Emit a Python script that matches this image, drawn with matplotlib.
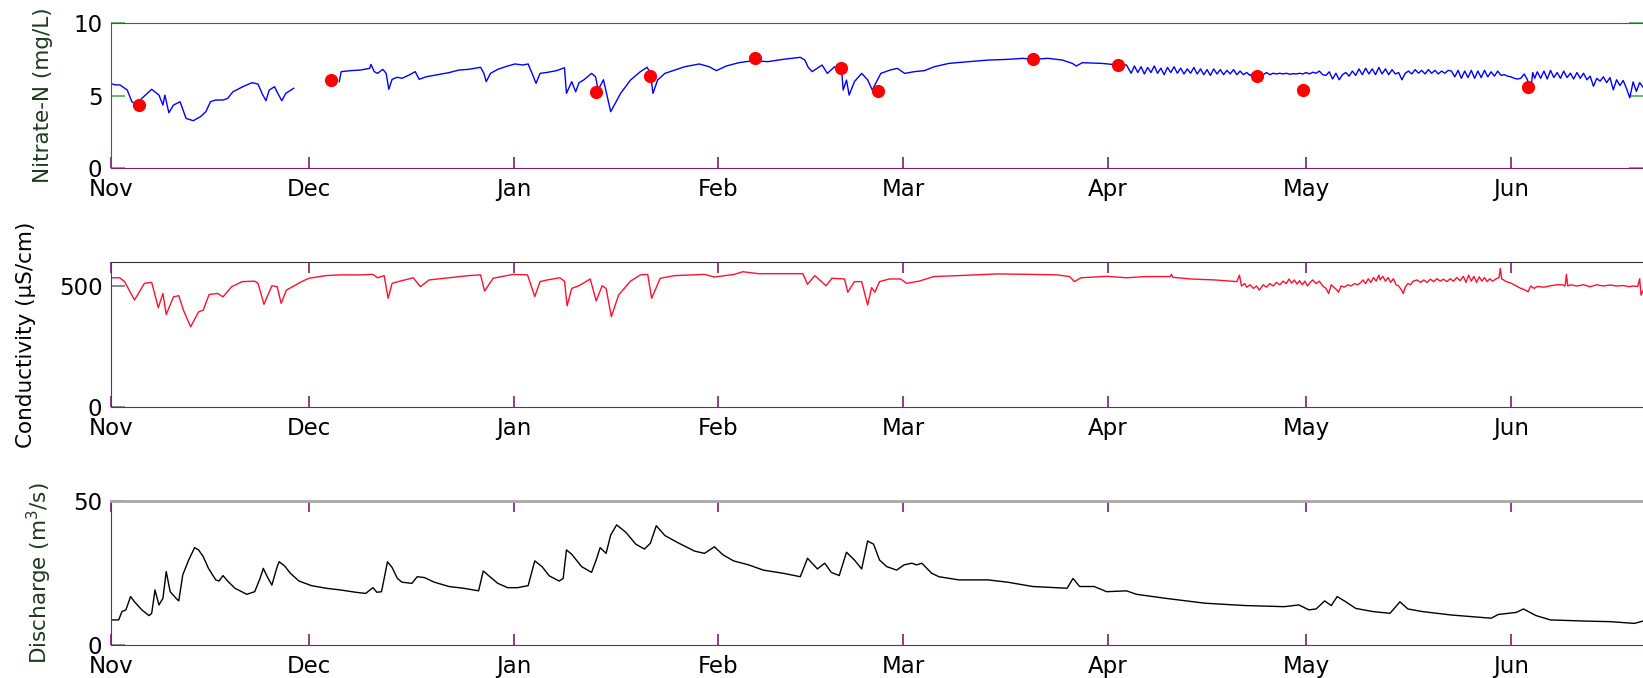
import numpy as np
import matplotlib
matplotlib.use("Agg")
import matplotlib.pyplot as plt

plt.rcParams['font.family'] = ['DejaVu Sans']
plt.rcParams['mathtext.fontset'] = 'dejavusans'

# x axis: days since Nov 1, month starts as tick positions
month_days = [0, 30, 61, 92, 120, 151, 181, 212]
month_labels = ['Nov', 'Dec', 'Jan', 'Feb', 'Mar', 'Apr', 'May', 'Jun']
x_end = 232.0

# Nitrate-N sensor record (mg/L), two pieces with a gap in late Nov
nit_day_a = [0.0, 0.6, 1.4, 2.5, 3.2, 4.0, 4.7, 6.2, 7.3, 7.9, 8.2, 8.8, 9.5, 10.5,
             11.4, 12.5, 13.6, 14.4, 15.1, 15.9, 17.0, 17.7, 18.5, 20.0, 21.4, 22.3,
             22.9, 23.5, 24.0, 24.8, 25.3, 25.9, 26.5, 27.7]
nit_val_a = [5.85, 5.75, 5.74, 5.39, 4.58, 4.35, 4.81, 5.44, 5.04, 4.35, 5.04, 3.82,
             4.35, 4.58, 3.43, 3.27, 3.55, 3.89, 4.58, 4.70, 4.70, 4.81, 5.27, 5.62,
             5.90, 5.80, 5.16, 4.65, 5.39, 5.62, 5.16, 4.65, 5.16, 5.51]

nit_day_b = [34.6, 34.9, 36.3, 37.8, 39.2, 39.4, 39.9, 40.4, 41.2, 41.7, 42.1, 42.6,
             43.4, 44.1, 45.2, 46.1, 46.7, 47.8, 49.7, 51.2, 52.7, 54.2, 56.0, 56.5,
             56.85, 57.5, 58.6, 60.1, 61.2, 62.4, 63.2, 63.8, 64.4, 65.0, 66.1, 67.5,
             68.7, 69.0, 69.8, 70.4, 70.9, 71.6, 72.8, 73.4, 73.8, 74.6, 75.7, 77.2,
             78.7, 80.2, 81.2, 81.7, 82.1, 82.8, 83.9, 85.4, 86.9, 89.1, 90.6, 91.7,
             93.2, 95.1, 97.3, 99.5, 101.8, 104.4, 105.1, 105.6, 106.2, 107.7, 108.5,
             109.6, 110.7, 110.9, 111.4, 111.8, 112.6, 113.7, 114.6, 115.3, 116.6,
             118.0, 119.1, 120.2, 121.7, 123.2, 124.7, 126.9, 129.9, 132.9, 135.9,
             138.1, 139.6, 141.9, 144.1, 145.6, 146.2, 147.1, 150.1, 152.5, 153.8,
             154.0, 154.5, 155.0, 155.5, 156.0, 156.5, 157.0, 157.5, 158.0, 158.5,
             159.0, 159.5, 160.0, 160.5, 161.0, 161.5, 162.0, 162.5, 163.0, 163.5,
             164.0, 164.5, 165.0, 165.5, 166.0, 166.5, 167.0, 167.5, 168.0, 168.5,
             169.0, 169.5, 170.0, 170.5, 171.0, 171.5, 172.0, 172.5, 173.0, 173.5,
             174.0, 174.5, 175.0, 175.5, 176.0, 176.5, 177.0, 177.5, 178.0, 178.5,
             179.0, 179.5, 180.0, 180.5, 181.0, 181.5, 182.0, 182.5, 183.0, 183.5,
             184.0, 184.5, 185.0, 185.5, 186.0, 186.5, 187.0, 187.5, 188.0, 188.5,
             189.0, 189.5, 190.0, 190.5, 191.0, 191.5, 192.0, 192.5, 193.0, 193.5,
             194.0, 194.5, 195.0, 195.5, 196.0, 196.5, 197.0, 197.5, 198.0, 198.5,
             199.0, 199.5, 200.0, 200.5, 201.0, 201.5, 202.0, 202.5, 203.0, 203.5,
             204.0, 204.5, 205.0, 205.5, 206.0, 206.5, 207.0, 207.5, 208.0, 208.5,
             209.0, 209.5, 210.0, 210.5, 211.0, 211.5, 212.0, 212.5, 213.0, 213.5,
             214.0, 214.5, 215.0, 215.3, 215.6, 216.0, 216.5, 217.0, 217.5, 218.0,
             218.5, 219.0, 219.5, 220.0, 220.5, 221.0, 221.5, 222.0, 222.5, 223.0,
             223.5, 224.0, 224.5, 225.0, 225.5, 226.0, 226.5, 227.0, 227.5, 228.0,
             228.5, 229.0, 229.5, 230.0, 230.5, 231.0, 231.5, 232.0]
nit_val_b = [5.97, 6.66, 6.73, 6.77, 6.89, 7.16, 6.66, 6.54, 6.82, 6.54, 5.44, 6.13,
             6.27, 6.20, 6.43, 6.66, 6.13, 6.31, 6.47, 6.59, 6.77, 6.82, 6.96, 6.54,
             5.97, 6.54, 6.82, 7.05, 7.19, 7.12, 7.19, 6.54, 5.85, 6.54, 6.61, 6.73,
             6.93, 5.16, 5.97, 5.27, 5.90, 6.08, 6.54, 6.31, 5.40, 6.10, 3.89, 5.16,
             6.08, 6.66, 6.96, 6.60, 5.16, 6.08, 6.54, 6.77, 7.00, 7.19, 7.00, 6.73,
             7.05, 7.28, 7.42, 7.35, 7.51, 7.65, 7.46, 6.96, 6.66, 7.12, 6.54,
             7.00, 6.54, 5.39, 6.08, 5.04, 5.97, 6.54, 6.10, 5.39, 6.54,
             6.77, 6.89, 6.54, 6.66, 6.73, 7.00, 7.23, 7.35, 7.46, 7.51,
             7.58, 7.51, 7.58, 7.46, 7.23, 7.05, 7.28, 7.23, 7.12, 7.12,
             6.95, 6.55, 7.05, 6.60, 7.00, 6.50, 6.95, 6.60, 7.05, 6.55,
             6.90, 6.45, 6.95, 6.60, 7.00, 6.55, 6.90, 6.50, 6.85, 6.55,
             6.95, 6.50, 6.85, 6.45, 6.80, 6.40, 6.85, 6.50, 6.80, 6.45,
             6.75, 6.50, 6.80, 6.45, 6.70, 6.45, 6.60, 6.40, 6.55, 6.40,
             6.55, 6.45, 6.60, 6.45, 6.55, 6.50, 6.55, 6.50, 6.55, 6.48,
             6.52, 6.50, 6.55, 6.50, 6.60, 6.50, 6.62, 6.55, 6.70, 6.45,
             6.40, 6.65, 6.15, 6.55, 6.10, 6.45, 6.60, 6.35, 6.70, 6.40,
             6.85, 6.45, 6.90, 6.50, 6.85, 6.45, 6.95, 6.50, 6.85, 6.45,
             6.80, 6.50, 6.60, 6.10, 6.55, 6.70, 6.50, 6.80, 6.55, 6.75,
             6.50, 6.80, 6.55, 6.75, 6.50, 6.70, 6.55, 6.75, 6.70, 6.30,
             6.75, 6.20, 6.70, 6.25, 6.75, 6.20, 6.70, 6.25, 6.75, 6.30,
             6.65, 6.35, 6.70, 6.40, 6.45, 6.35, 6.30, 6.20, 6.15, 6.20,
             6.50, 6.10, 5.40, 6.60, 6.20, 6.65, 6.20, 6.70, 6.15, 6.75,
             6.25, 6.60, 6.20, 6.70, 6.25, 6.55, 6.15, 6.60, 6.20, 6.55,
             6.10, 6.35, 5.65, 6.20, 6.00, 6.30, 5.90, 6.25, 5.40, 6.10,
             5.70, 6.05, 5.50, 4.85, 5.95, 5.30, 5.90, 5.60]

# grab samples (red dots)
grab_day = [4.3, 33.4, 73.5, 81.7, 97.5, 110.5, 116.2, 139.6, 152.5, 173.6, 180.5, 214.6]
grab_val = [4.37, 6.08, 5.27, 6.38, 7.58, 6.89, 5.34, 7.51, 7.12, 6.38, 5.39, 5.62]

# specific conductivity (uS/cm)
cond_day = [0.0, 1.35, 2.1, 3.6, 5.1, 6.2, 7.2, 7.9, 8.4, 9.5, 10.3, 11.0, 12.1, 13.3,
            14.0, 14.9, 16.2, 17.0, 18.3, 19.9, 21.8, 22.3, 23.2, 24.4, 25.2, 25.8,
            26.6, 27.8, 28.9, 30.0, 32.6, 34.8, 37.8, 39.7, 40.4, 41.4, 42.0, 42.6,
            43.8, 45.8, 46.9, 48.2, 51.2, 54.2, 56.0, 56.6, 57.9, 60.9, 63.1, 64.2,
            65.0, 66.1, 68.0, 68.7, 69.1, 69.8, 70.9, 72.6, 73.5, 74.4, 75.0, 75.8,
            76.9, 78.7, 80.2, 81.3, 81.9, 83.2, 85.4, 89.9, 91.4, 94.4, 95.7, 98.1,
            104.8, 105.5, 106.6, 108.3, 109.2, 111.1, 111.6, 112.6, 113.7, 114.6,
            115.2, 115.7, 116.4, 117.9, 119.6, 120.5, 122.4, 124.6, 128.4, 134.3,
            139.5, 143.3, 145.2, 145.9, 146.9, 150.8, 153.8, 156.7, 160.4, 160.6,
            160.8, 163.5, 167.2, 170.5, 170.9, 171.2, 171.7, 172.0, 172.5, 173.0,
            173.5, 173.9, 174.5, 175.0, 175.5, 176.0, 176.5, 177.0, 177.5, 178.0,
            178.4, 178.8, 179.2, 179.6, 180.0, 180.4, 180.8, 181.2, 181.6, 182.0,
            182.5, 183.0, 183.5, 184.0, 184.4, 184.8, 185.2, 185.6, 185.9, 186.3,
            186.8, 187.3, 187.8, 188.3, 188.8, 189.3, 189.6, 190.0, 190.4, 190.8,
            191.2, 191.6, 192.0, 192.2, 192.6, 193.0, 193.4, 193.8, 194.2, 194.6,
            195.0, 195.4, 195.7, 196.0, 196.4, 196.8, 197.2, 197.8, 198.3, 198.8,
            199.3, 199.8, 200.3, 200.8, 201.3, 201.8, 202.3, 202.8, 203.3, 203.8,
            204.3, 204.8, 205.2, 205.6, 206.0, 206.4, 206.8, 207.2, 207.6, 208.0,
            208.4, 208.8, 209.2, 209.8, 210.2, 210.4, 210.6, 211.3, 212.0, 212.8,
            213.5, 214.0, 214.6, 215.0, 215.5, 216.0, 217.0, 218.0, 219.0, 219.8,
            220.2, 220.4, 220.6, 221.0, 222.0, 223.0, 224.0, 225.0, 226.0, 227.0,
            228.0, 229.0, 229.9, 230.5, 231.2, 231.5, 231.7, 232.0]
cond_val = [534, 534, 518, 442, 511, 515, 410, 469, 382, 455, 460, 400, 331, 393,
            400, 465, 469, 455, 497, 518, 520, 511, 424, 501, 497, 428,
            483, 501, 518, 532, 543, 546, 546, 548, 534, 543, 449, 511,
            520, 534, 497, 525, 534, 543, 546, 479, 532, 548, 546, 456,
            518, 525, 534, 520, 418, 490, 501, 529, 438, 501, 490, 373,
            463, 520, 546, 548, 449, 532, 543, 548, 537, 548, 559, 551,
            551, 507, 543, 501, 532, 529, 474, 518, 518, 421,
            493, 474, 518, 529, 529, 511, 520, 539, 543, 550,
            548, 546, 539, 518, 534, 540, 534, 539, 539, 548,
            536, 529, 525, 518, 545, 500, 510, 495, 505, 490,
            500, 483, 505, 495, 510, 500, 515, 505, 520, 510,
            529, 512, 525, 508, 522, 505, 520, 500, 515, 525,
            510, 520, 500, 490, 469, 505, 495, 485, 474, 500,
            495, 505, 500, 510, 505, 515, 525, 510, 530, 515,
            535, 520, 545, 525, 540, 520, 535, 515, 530, 505,
            500, 485, 469, 495, 510, 505, 520, 525, 515, 525,
            515, 528, 518, 530, 520, 528, 518, 530, 520, 535,
            522, 540, 515, 545, 520, 540, 515, 538, 520, 535,
            518, 530, 520, 530, 535, 573, 530, 518, 512, 500,
            490, 485, 476, 500, 490, 498, 495, 501, 505, 505,
            500, 548, 500, 505, 500, 505, 497, 505, 500, 504,
            500, 502, 497, 500, 498, 530, 462, 480]

# discharge (m3/s)
q_day = [0.0, 1.2, 1.7, 2.3, 3.0, 3.6, 4.7, 5.8, 6.2, 6.7, 7.3, 7.9, 8.4, 9.0, 9.9,
         10.3, 10.9, 11.8, 12.7, 13.3, 14.0, 14.8, 15.9, 16.4, 17.0, 17.7, 18.8,
         20.6, 21.8, 22.6, 23.1, 23.7, 24.4, 25.2, 25.5, 26.3, 27.2, 28.5, 30.4,
         32.6, 34.8, 37.1, 38.6, 39.7, 40.3, 41.0, 41.9, 42.6, 43.4, 44.1, 45.6,
         46.4, 47.5, 49.0, 51.2, 53.4, 55.7, 56.4, 57.1, 58.6, 60.1, 61.6, 63.2,
         64.2, 65.3, 66.4, 67.9, 68.5, 69.0, 69.8, 71.3, 72.8, 73.5, 74.1, 75.0,
         75.7, 76.6, 78.0, 79.5, 80.8, 81.7, 82.6, 83.9, 85.8, 88.4, 89.9, 91.4,
         92.7, 94.3, 96.6, 98.8, 101.8, 104.4, 105.5, 107.0, 108.1, 109.1, 110.3,
         111.4, 112.6, 113.7, 114.6, 115.5, 116.4, 117.5, 119.0, 120.1, 121.3,
         122.0, 122.8, 124.3, 125.4, 128.4, 132.8, 135.8, 139.6, 144.8, 145.7,
         146.7, 148.9, 150.8, 153.8, 155.3, 159.7, 165.7, 171.7, 177.7, 179.9,
         181.4, 182.5, 183.8, 184.8, 185.7, 187.0, 188.5, 191.1, 193.7, 195.2,
         196.4, 198.6, 203.0, 209.0, 210.1, 211.6, 212.8, 213.9, 215.8, 218.0,
         223.3, 227.0, 230.7, 232.0]
q_val = [8.7, 8.7, 11.6, 12.2, 16.8, 15.0, 12.2, 10.2, 11.0, 19.1, 13.9, 16.2, 25.5,
         18.5, 16.2, 15.3, 24.3, 29.5, 33.8, 33.0, 30.7, 26.6, 22.6, 22.2, 24.1,
         22.2, 19.7, 17.6, 18.5, 23.1, 26.6, 23.7, 20.8, 27.2, 28.9, 27.5, 24.9,
         22.2, 20.6, 19.7, 19.1, 18.3, 17.9, 19.9, 18.3, 18.5, 28.9, 26.9, 23.1,
         21.8, 21.4, 23.7, 23.4, 21.8, 20.3, 19.7, 18.8, 25.7, 24.3, 21.4, 19.9,
         19.9, 20.6, 29.2, 27.2, 24.0, 22.2, 23.1, 33.0, 31.5, 27.2, 25.2, 29.5,
         33.8, 31.8, 38.2, 41.7, 39.1, 35.0, 33.3, 35.3, 41.4, 38.0, 35.6, 32.6,
         31.8, 34.1, 31.3, 29.2, 27.8, 26.0, 24.9, 23.7, 30.1, 26.4, 28.4, 25.2,
         24.1, 32.2, 29.5, 26.4, 36.1, 35.0, 29.5, 27.2, 26.0, 27.8, 28.4, 27.8,
         28.4, 24.9, 23.7, 22.6, 22.6, 21.8, 20.3, 19.7, 23.1, 20.3, 20.3, 18.5,
         18.8, 17.6, 16.2, 14.5, 13.7, 13.3, 13.9, 12.2, 12.5, 15.3, 13.7, 16.8,
         15.0, 12.7, 11.6, 11.0, 15.0, 12.5, 11.6, 10.4, 9.3, 10.6, 11.0, 11.3,
         12.5, 10.2, 8.7, 8.3, 8.1, 7.5, 8.3]

label_col = '#1e3a1e'
purple = '#7a1f7a'

fig = plt.figure(figsize=(16.43, 6.78), dpi=100)
ax1 = fig.add_axes([0.0674, 0.7522, 0.9326, 0.2134])
ax2 = fig.add_axes([0.0674, 0.4001, 0.9326, 0.2130])
ax3 = fig.add_axes([0.0674, 0.0487, 0.9326, 0.2124])

# nitrate
ax1.plot(nit_day_a, nit_val_a, color='#0000ff', lw=1.0)
ax1.plot(nit_day_b, nit_val_b, color='#0000ff', lw=1.0)
ax1.plot(grab_day, grab_val, 'o', color='#ff0000', ms=9.5, mec='none', zorder=3)
ax1.set_ylim(0, 10)
ax1.set_yticks([0, 5, 10])
ax1.set_ylabel('Nitrate-N (mg/L)', fontsize=15.5, color=label_col)
ax1.yaxis.set_label_coords(-0.038, 0.5)

# conductivity
ax2.plot(cond_day, cond_val, color='#ff1030', lw=1.0)
ax2.set_ylim(0, 598)
ax2.set_yticks([0, 500])
ax2.set_ylabel('Conductivity (μS/cm)', fontsize=15.5, color='black')
ax2.yaxis.set_label_coords(-0.049, 0.5)

# discharge
ax3.plot(q_day, q_val, color='black', lw=1.0)
ax3.set_ylim(0, 50)
ax3.set_yticks([0, 50])
ax3.set_ylabel('Discharge (m$^3$/s)', fontsize=15.5, color=label_col)
ax3.yaxis.set_label_coords(-0.037, 0.5)

for ax in (ax1, ax2, ax3):
    ax.set_xlim(0, x_end)
    ax.set_xticks(month_days)
    ax.set_xticklabels(month_labels)
    ax.tick_params(axis='x', direction='in', length=8, width=1.2, color=purple,
                   labelsize=16.5, pad=7.5)
    ax.tick_params(axis='y', direction='in', length=10, width=1.2, color='#777777',
                   labelsize=16.5, pad=6)
    ax.spines['right'].set_visible(False)
    ax.spines['bottom'].set_color(purple)
    ax.spines['left'].set_color(purple)

ax1.spines['left'].set_color('#555555')
ax1.spines['top'].set_color('#555555')
ax1.tick_params(axis='y', color='#4caf50', right=True)
ax2.spines['top'].set_color('#333333')
ax2.tick_params(axis='x', top=True)
ax3.spines['top'].set_color('#a8a8a8')
ax3.spines['top'].set_linewidth(2)
ax3.tick_params(axis='x', top=True)

fig.savefig('out.png', dpi=100)
